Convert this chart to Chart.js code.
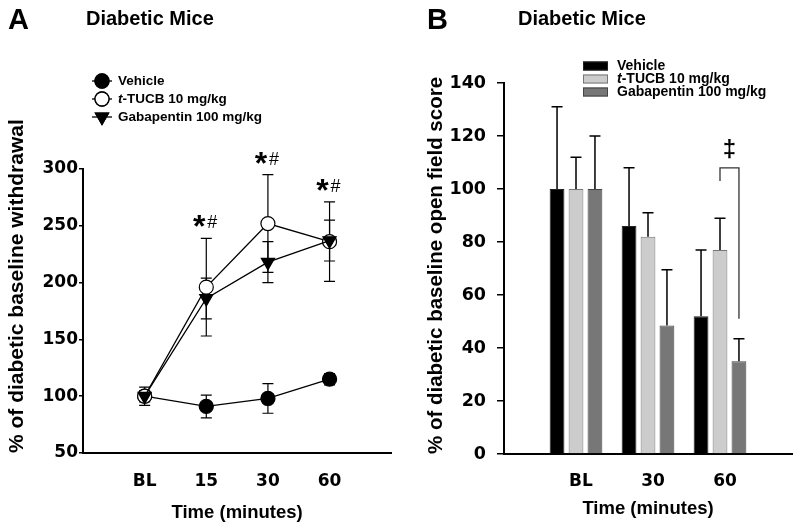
<!doctype html>
<html>
    <head>
        <meta charset="UTF-8" />
        <title>Diabetic Mice</title>
        <script src="https://cdn.jsdelivr.net/npm/chart.js"></script>
        <style>
            body { margin: 0; background: #fff; }
            .panel { position: absolute; top: 0; width: 400px; height: 531px; }
        </style>
    </head>

    <body>
        <div class="panel" style="left:0"><canvas id="chartA" width="400" height="531"></canvas></div>
        <div class="panel" style="left:400px"><canvas id="chartB" width="400" height="531"></canvas></div>

        <script>
        // ---- Panel A data (mechanical withdrawal) ----
        var timeLabelsA = ['BL', '15', '30', '60'];
        var vehicleA = [100, 91, 98, 115];
        var vehicleErrA = [8, 10, 13, 5];
        var tucbA = [100, 196, 252, 236];
        var tucbErrA = [4, 43, 43, 35];
        var gabaA = [100, 186, 218, 237];
        var gabaErrA = [5, 18, 18, 18];
        var sigA = ['', '*#', '*#', '*#'];

        // ---- Panel B data (open field score) ----
        var timeLabelsB = ['BL', '30', '60'];
        var vehicleB = [100, 86, 52];
        var vehicleErrB = [31, 22, 25];
        var tucbB = [100, 82, 77];
        var tucbErrB = [12, 9, 12];
        var gabaB = [100, 48.5, 35];
        var gabaErrB = [20, 21, 8.5];

        var seriesNames = ['Vehicle', 't-TUCB 10 mg/kg', 'Gabapentin 100 mg/kg'];

        var TEXT_FONT = '"Liberation Sans", Arial, sans-serif';
        var TICK_FONT = '"DejaVu Sans", sans-serif';

        // pad the arrays with empty slots at both ends of the axis
        function pad(arr) { return [null].concat(arr, [null]); }

        // draw a series name, with the leading "t" of t-TUCB in italics
        function drawName(ctx, name, x, y, size) {
            ctx.textBaseline = 'middle';
            ctx.textAlign = 'left';
            if (name.indexOf('t-') === 0) {
                ctx.font = 'italic bold ' + size + 'px ' + TEXT_FONT;
                ctx.fillText('t', x, y);
                var w = ctx.measureText('t').width;
                ctx.font = 'bold ' + size + 'px ' + TEXT_FONT;
                ctx.fillText(name.slice(1), x + w, y);
            } else {
                ctx.font = 'bold ' + size + 'px ' + TEXT_FONT;
                ctx.fillText(name, x, y);
            }
        }

        function drawHeader(ctx, letter, letterX, titleX) {
            ctx.save();
            ctx.fillStyle = '#000';
            ctx.textBaseline = 'alphabetic';
            ctx.textAlign = 'left';
            ctx.font = 'bold 29px ' + TEXT_FONT;
            ctx.fillText(letter, letterX, 29);
            ctx.font = 'bold 20px ' + TEXT_FONT;
            ctx.fillText('Diabetic Mice', titleX, 25);
            ctx.restore();
        }

        // keep the x axis flush with the layout padding (no label overflow room)
        function fitX(height) {
            return function(s) {
                s.height = height;
                s.paddingLeft = 0;
                s.paddingRight = 0;
            };
        }

        // error bars for panel A (both directions), drawn under the markers
        var errorBarsA = {
            id: 'errorBarsA',
            beforeDatasetsDraw: function(chart) {
                var ctx = chart.ctx, xs = chart.scales.x, ys = chart.scales.y;
                var errs = [vehicleErrA, tucbErrA, gabaErrA];
                ctx.save();
                ctx.strokeStyle = '#000';
                ctx.lineWidth = 1.2;
                chart.data.datasets.forEach(function(ds, di) {
                    ds.data.forEach(function(v, i) {
                        if (v === null) return;
                        var e = errs[di][i - 1];
                        var x = xs.getPixelForValue(i);
                        var y1 = ys.getPixelForValue(v - e), y2 = ys.getPixelForValue(v + e);
                        ctx.beginPath();
                        ctx.moveTo(x, y1); ctx.lineTo(x, y2);
                        ctx.moveTo(x - 5.5, y1); ctx.lineTo(x + 5.5, y1);
                        ctx.moveTo(x - 5.5, y2); ctx.lineTo(x + 5.5, y2);
                        ctx.stroke();
                    });
                });
                ctx.restore();
            },
            afterDraw: function(chart) {
                var ctx = chart.ctx, xs = chart.scales.x, ys = chart.scales.y;
                ctx.save();
                ctx.fillStyle = '#000';
                ctx.textBaseline = 'middle';
                ctx.textAlign = 'center';
                // significance marks above the highest error bar
                sigA.forEach(function(s, i) {
                    if (!s) return;
                    var top = Math.max(vehicleA[i] + vehicleErrA[i], tucbA[i] + tucbErrA[i], gabaA[i] + gabaErrA[i]);
                    var x = xs.getPixelForValue(i + 1);
                    var y = ys.getPixelForValue(top) - 15;
                    ctx.font = 'bold 32px ' + TEXT_FONT;
                    ctx.fillText(s.charAt(0), x - 7, y + 5);
                    ctx.font = '18px ' + TEXT_FONT;
                    ctx.fillText(s.charAt(1), x + 6, y);
                });
                // legend
                var rows = [81, 99, 117];
                chart.data.datasets.forEach(function(ds, di) {
                    var y = rows[di];
                    ctx.strokeStyle = '#000';
                    ctx.lineWidth = 1.3;
                    ctx.beginPath(); ctx.moveTo(92, y); ctx.lineTo(112, y); ctx.stroke();
                    Chart.helpers.drawPoint(ctx, {
                        pointStyle: ds.pointStyle, rotation: ds.pointRotation || 0,
                        radius: ds.pointRadius, borderWidth: 1.2
                    }, 102, y);
                    ctx.fillStyle = ds.pointBackgroundColor;
                    ctx.fill();
                    ctx.stroke();
                    ctx.fillStyle = '#000';
                    drawName(ctx, seriesNames[di], 118, y, 13.5);
                });
                ctx.restore();
                drawHeader(ctx, 'A', 8, 86);
            }
        };

        // upper error bars, bracket and legend for panel B
        var errorBarsB = {
            id: 'errorBarsB',
            afterDatasetsDraw: function(chart) {
                var ctx = chart.ctx, ys = chart.scales.y;
                var errs = [vehicleErrB, tucbErrB, gabaErrB];
                ctx.save();
                ctx.strokeStyle = '#000';
                ctx.lineWidth = 1.5;
                chart.data.datasets.forEach(function(ds, di) {
                    var meta = chart.getDatasetMeta(di);
                    meta.data.forEach(function(bar, i) {
                        if (ds.data[i] === null) return;
                        var e = errs[di][i - 1];
                        var x = bar.x;
                        var y1 = ys.getPixelForValue(ds.data[i]), y2 = ys.getPixelForValue(ds.data[i] + e);
                        ctx.beginPath();
                        ctx.moveTo(x, y1); ctx.lineTo(x, y2);
                        ctx.moveTo(x - 5.5, y2); ctx.lineTo(x + 5.5, y2);
                        ctx.stroke();
                    });
                });
                // bracket between t-TUCB and gabapentin at 60 min
                var left = chart.getDatasetMeta(1).data[3].x;
                var right = chart.getDatasetMeta(2).data[3].x;
                ctx.strokeStyle = '#333';
                ctx.lineWidth = 1.3;
                ctx.beginPath();
                ctx.moveTo(left, ys.getPixelForValue(103));
                ctx.lineTo(left, ys.getPixelForValue(108));
                ctx.lineTo(right, ys.getPixelForValue(108));
                ctx.lineTo(right, ys.getPixelForValue(51));
                ctx.stroke();
                ctx.fillStyle = '#000';
                ctx.font = 'bold 24px ' + TEXT_FONT;
                ctx.textAlign = 'center';
                ctx.textBaseline = 'middle';
                ctx.fillText('\u2021', (left + right) / 2, ys.getPixelForValue(114.5));
                ctx.restore();
            },
            afterDraw: function(chart) {
                var ctx = chart.ctx;
                var rows = [66, 79, 92];
                ctx.save();
                chart.data.datasets.forEach(function(ds, di) {
                    var y = rows[di];
                    ctx.fillStyle = ds.backgroundColor;
                    ctx.strokeStyle = ds.borderColor;
                    ctx.lineWidth = 1;
                    ctx.fillRect(183, y - 4.5, 25, 9);
                    ctx.strokeRect(183.5, y - 4, 24, 8);
                    ctx.fillStyle = '#000';
                    drawName(ctx, seriesNames[di], 217, y, 14);
                });
                ctx.restore();
                drawHeader(ctx, 'B', 27, 118);
            }
        };

        new Chart(document.getElementById('chartA').getContext('2d'), {
            type: 'line',
            data: {
                labels: pad(timeLabelsA).map(function(l) { return l || ''; }),
                datasets: [{
                    label: seriesNames[0], data: pad(vehicleA), order: 2,
                    borderColor: '#000', borderWidth: 1.3,
                    pointStyle: 'circle', pointRadius: 7,
                    pointBackgroundColor: '#000', pointBorderColor: '#000'
                }, {
                    label: seriesNames[1], data: pad(tucbA), order: 1,
                    borderColor: '#000', borderWidth: 1.3,
                    pointStyle: 'circle', pointRadius: 7,
                    pointBackgroundColor: '#fff', pointBorderColor: '#000', pointBorderWidth: 1.2
                }, {
                    label: seriesNames[2], data: pad(gabaA), order: 0,
                    borderColor: '#000', borderWidth: 1.3,
                    pointStyle: 'triangle', pointRotation: 180, pointRadius: 7.5,
                    pointBackgroundColor: '#000', pointBorderColor: '#000'
                }]
            },
            options: {
                responsive: false,
                animation: false,
                layout: { padding: { top: 169, right: 7, left: 0, bottom: 0 } },
                plugins: { legend: { display: false }, tooltip: { enabled: false } },
                scales: {
                    x: {
                        offset: false,
                        afterFit: fitX(78),
                        grid: { display: false, drawTicks: false },
                        border: { display: true, color: '#000', width: 2 },
                        ticks: { color: '#000', padding: 18, font: { family: TICK_FONT, size: 17, weight: 'bold' } },
                        title: { display: true, text: 'Time (minutes)', color: '#000',
                                 padding: { top: 0, bottom: 7 },
                                 font: { family: TEXT_FONT, size: 18.5, weight: 'bold' } }
                    },
                    y: {
                        min: 50, max: 300,
                        afterFit: function(s) { s.width = 83; },
                        grid: { drawOnChartArea: false, drawTicks: true, tickLength: 4, color: '#000', lineWidth: 1.5 },
                        border: { display: true, color: '#000', width: 2 },
                        ticks: { stepSize: 50, color: '#000', padding: 1, font: { family: TICK_FONT, size: 17, weight: 'bold' } },
                        title: { display: true, text: '% of diabetic baseline withdrawal', color: '#000', align: 'start',
                                 padding: { top: 5, bottom: 0 },
                                 font: { family: TEXT_FONT, size: 21, weight: 'bold' } }
                    }
                }
            },
            plugins: [errorBarsA]
        });

        new Chart(document.getElementById('chartB').getContext('2d'), {
            type: 'bar',
            data: {
                labels: pad(timeLabelsB).map(function(l) { return l || ''; }),
                datasets: [{
                    label: seriesNames[0], data: pad(vehicleB),
                    backgroundColor: '#000', borderColor: '#222', borderWidth: 1
                }, {
                    label: seriesNames[1], data: pad(tucbB),
                    backgroundColor: '#cccccc', borderColor: '#777', borderWidth: 1
                }, {
                    label: seriesNames[2], data: pad(gabaB),
                    backgroundColor: '#777777', borderColor: '#444', borderWidth: 1
                }]
            },
            options: {
                responsive: false,
                animation: false,
                categoryPercentage: 0.79,
                barPercentage: 0.78,
                layout: { padding: { top: 83, right: 8, left: 0, bottom: 0 } },
                plugins: { legend: { display: false }, tooltip: { enabled: false } },
                scales: {
                    x: {
                        offset: false,
                        afterFit: fitX(77),
                        grid: { display: false, offset: false, drawTicks: false },
                        border: { display: true, color: '#000', width: 2 },
                        ticks: { color: '#000', padding: 17, labelOffset: 5, font: { family: TICK_FONT, size: 17, weight: 'bold' } },
                        title: { display: true, text: 'Time (minutes)', color: '#000',
                                 padding: { top: 0, bottom: 11 },
                                 font: { family: TEXT_FONT, size: 18.5, weight: 'bold' } }
                    },
                    y: {
                        min: 0, max: 140,
                        afterFit: function(s) { s.width = 104; },
                        grid: { drawOnChartArea: false, drawTicks: true, tickLength: 7, color: '#000', lineWidth: 1.5 },
                        border: { display: true, color: '#000', width: 2 },
                        ticks: { stepSize: 20, color: '#000', padding: 11, font: { family: TICK_FONT, size: 17.5, weight: 'bold' } },
                        title: { display: true, text: '% of diabetic baseline open field score', color: '#000', align: 'start',
                                 padding: { top: 24, bottom: 0 },
                                 font: { family: TEXT_FONT, size: 20.5, weight: 'bold' } }
                    }
                }
            },
            plugins: [errorBarsB]
        });
        </script>
    </body>
</html>
